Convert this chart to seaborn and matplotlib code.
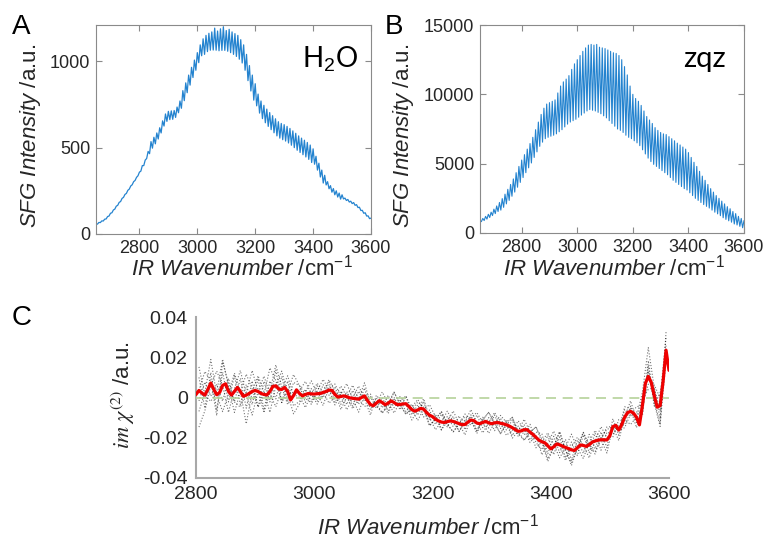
import numpy as np
import pandas as pd
import matplotlib
matplotlib.use("Agg")
import matplotlib.pyplot as plt
import seaborn as sns

# ---------------- Panel A (H2O) : SFG intensity, fringe maxima / minima ----------------
a_peak_wn = np.arange(2650, 3601, 10)
a_peak = [58, 67, 76, 86, 101, 120, 139, 161, 183, 206,
          229, 253, 278, 303, 328, 358, 396, 428, 478, 535,
          560, 585, 615, 655, 695, 710, 713, 715, 735, 770,
          830, 875, 920, 965, 1007, 1050, 1095, 1130, 1150, 1162,
          1170, 1192, 1175, 1188, 1200, 1178, 1185, 1170, 1160, 1150,
          1125, 1095, 1040, 975, 920, 870, 810, 770, 745, 723,
          703, 685, 667, 650, 640, 633, 623, 611, 597, 583,
          568, 555, 543, 530, 515, 493, 450, 410, 370, 340,
          303, 280, 263, 250, 237, 227, 208, 200, 190, 182,
          170, 155, 137, 123, 105, 92]
a_trough_wn = np.arange(2655, 3600, 10)
a_trough = [57, 66, 75, 87, 104, 123, 144, 166, 188, 212,
            235, 260, 285, 310, 337, 364, 396, 437, 465, 497,
            522, 550, 585, 625, 652, 662, 664, 675, 702, 728,
            772, 818, 862, 906, 948, 992, 1032, 1040, 1056, 1064,
            1065, 1064, 1061, 1063, 1063, 1058, 1050, 1040, 1028, 1012,
            990, 948, 888, 828, 775, 742, 700, 668, 644, 623,
            604, 586, 568, 555, 546, 538, 527, 514, 500, 485,
            472, 459, 446, 432, 414, 404, 370, 330, 295, 284,
            262, 242, 227, 214, 202, 203, 194, 185, 176, 166,
            153, 136, 120, 104, 89]

# ---------------- Panel B (zqz) ----------------
b_peak_wn = np.arange(2650, 3601, 10)
b_peak = [900, 1050, 1200, 1350, 1500, 1720, 1950, 2200, 2480, 2800,
          3150, 3500, 3900, 4350, 4800, 5260, 5650, 6050, 6450, 6900,
          7450, 8000, 8550, 9000, 9300, 9400, 9500, 9600, 10100, 10600,
          10900, 11100, 11350, 11800, 12200, 12500, 12800, 13100, 13350, 13550,
          13600, 13550, 13600, 13400, 13350, 13300, 13200, 13100, 13000, 12950,
          12800, 12500, 12000, 11400, 10600, 10000, 9700, 9500, 9200, 8800,
          8400, 8150, 7900, 7600, 7400, 7250, 7150, 7100, 6950, 6800,
          6650, 6480, 6350, 6200, 6050, 5800, 5450, 5100, 4800, 4450,
          4100, 3800, 3500, 3200, 2950, 2700, 2500, 2300, 2100, 1900,
          1750, 1550, 1400, 1200, 1050, 900]
b_trough_wn = np.arange(2655, 3600, 10)
b_trough = [820, 900, 1000, 1120, 1260, 1400, 1550, 1650, 1850, 2100,
            2350, 2650, 2950, 3300, 3650, 4000, 4350, 4700, 5050, 5450,
            5850, 6250, 6550, 6800, 6900, 6980, 7050, 7150, 7300, 7450,
            7650, 7850, 8000, 8100, 8200, 8350, 8500, 8650, 8800, 8900,
            8850, 8800, 8700, 8600, 8450, 8300, 8100, 7900, 7700, 7500,
            7400, 7250, 7050, 6900, 6800, 6650, 6500, 6300, 6000, 5700,
            5400, 5150, 4950, 4800, 4650, 4500, 4350, 4200, 4000, 3800,
            3650, 3500, 3350, 3200, 3100, 2900, 2700, 2500, 2350, 2200,
            2050, 1920, 1800, 1650, 1500, 1380, 1250, 1100, 980, 880,
            780, 650, 580, 480, 380]

# ---------------- Panel C : im chi(2) ----------------
c_wn = np.arange(2800, 3601, 5)
c_mean = [0.0015, 0.0035, 0.0022, 0.0012, 0.004, 0.0072, 0.004, 0.0014, 0.0025, 0.006,
          0.0068, 0.003, 0.0012, 0.003, 0.005, 0.003, 0.0006, 0.0012, 0.002, 0.003,
          0.0035, 0.003, 0.002, 0.0015, 0.0013, 0.003, 0.0055, 0.0058, 0.0042, 0.004,
          0.005, 0.003, -0.0012, 0.001, 0.0038, 0.002, 0.0008, 0.0015, 0.002, 0.0018,
          0.0017, 0.0019, 0.002, 0.0025, 0.003, 0.0037, 0.0035, 0.0015, 0.0002, 0.0005,
          0.0008, 0.0004, -0.0002, -0.0004, -0.0006, -0.0008, 0.0, 0.0008, -0.0015, -0.0035,
          -0.0041, -0.0028, -0.0016, -0.0025, -0.0036, -0.0028, -0.0017, -0.0025, -0.0035, -0.0035,
          -0.0032, -0.0031, -0.0045, -0.006, -0.0068, -0.0062, -0.0054, -0.0058, -0.0075, -0.0088,
          -0.0095, -0.0108, -0.0116, -0.0122, -0.0124, -0.012, -0.0116, -0.0119, -0.0124, -0.013,
          -0.0135, -0.0134, -0.0122, -0.0112, -0.0115, -0.0127, -0.013, -0.0124, -0.0119, -0.0126,
          -0.013, -0.0126, -0.0124, -0.0128, -0.0131, -0.0136, -0.0142, -0.015, -0.016, -0.0168,
          -0.0166, -0.016, -0.016, -0.0172, -0.0184, -0.0198, -0.0212, -0.022, -0.0225, -0.024,
          -0.0255, -0.0245, -0.0231, -0.0235, -0.0242, -0.0248, -0.0254, -0.026, -0.0263, -0.025,
          -0.0236, -0.0238, -0.0243, -0.0235, -0.0222, -0.0216, -0.0212, -0.021, -0.021, -0.0211,
          -0.019, -0.0145, -0.0138, -0.0162, -0.0135, -0.0098, -0.0075, -0.0069, -0.0078, -0.0098,
          -0.0136, -0.004, 0.007, 0.0105, 0.0075, 0.001, -0.0048, -0.004, 0.008, 0.0235,
          0.0135]

# individual scans: deviation from the mean (units of 1.3e-3), sampled at 2805..3595 step 10
dev_unit = 1.3e-3
scan_dev_1 = [9, 0, -7, 1, 10, 2, -8, 0, 8, 1, -6, 0, 9, 2, -5, 0, 8,
              3, 0, -4, 1, 5, 0, -4, 1, 5, 0, -5, 0, 4,
              -1, -4, 0, 4, 0, -4, 1, 4, 0, -4, 0, 4, -1, -4, 0, 4, 0, -3, 1, 4, 0, -4, 1, 4, 0, -4, 0, 4,
              1, -5, 0, 5, -1, -5, 0, 5, -1, -4, 0, 5, 0,
              -4, 0, 4, -1, -4,
              6, -3, -8, 7]
scan_dev_2 = [-8, 1, 9, 0, -10, -1, 7, 0, -11, 0, 6, 1, -8, 0, 7, -1, -7,
              -4, 1, 5, 0, -5, 1, 4, 0, -5, 0, 5, -1, -4,
              3, 0, -4, 1, 3, 0, -4, 0, 4, -1, -4, 0, 4, 0, -3, 1, 4, 0, -4, 0, 4, 0, -4, -1, 4, 0, -4, 1,
              -5, 1, 6, 0, -5, 1, 4, 0, -5, 0, 5, 1, -4,
              4, -1, -5, 0, 5,
              11, 3, -5, 2]
scan_dev_3 = [0, 9, 1, -8, 9, 3, -4, -6, 1, 8, 0, -7, 0, 8, 1, -5, 0,
              1, 5, 0, -4, 0, 4, 1, -5, 0, 5, 0, -4, 0,
              0, 4, 0, -4, 1, 3, 0, -4, 0, 4, 1, -3, 0, 4, 0, -4, 1, 4, 0, -4, 0, 3, 1, -4, 0, 4, 0, -4,
              0, 5, 1, -5, 0, 6, 0, -5, 1, 4, 0, -5, 0,
              0, 4, 1, -4, 0,
              2, -2, -7, -4]
scan_dev_4 = [-14, -6, -1, 9, 0, -8, 1, 8, 0, -9, 0, 7, -1, -8, 0, 6, 0,
              -1, -5, 0, 4, 0, -5, -1, 4, 0, -4, 0, 5, 0,
              0, -4, -1, 4, 0, -4, 0, 3, 1, -4, 0, 4, -1, -4, 0, 3, 0, -4, 1, 4, 0, -4, 0, 4, -1, -4, 0, 4,
              0, -6, 0, 5, -1, -6, 0, 5, 0, -5, 1, 4, 0,
              0, -4, -1, 4, 0,
              -3, 4, 3, 5]
scan_dev_5 = [5, -5, 4, -6, 5, -4, 6, -5, 4, -5, 5, -6, 4, -5, 5, -4, 5,
              3, -3, 2, -3, 3, -2, 3, -3, 2, -3, 3, -2, 3,
              -2, 2, -3, 2, -2, 3, -2, 2, -3, 2, -2, 3, -2, 2, -3, 2, -2, 3, -2, 2, -3, 2, -2, 3, -2, 2, -3, 2,
              3, -3, 4, -3, 3, -4, 3, -3, 4, -3, 3, -3, 3,
              -2, 3, -2, 2, -3,
              4, -4, 5, -4]
scan_dev_6 = [-4, 5, -5, 4, -6, 5, -4, 5, -5, 4, -6, 5, -4, 6, -5, 4, -4,
              -3, 2, -3, 3, -2, 3, -3, 2, -3, 3, -2, 3, -2,
              2, -2, 3, -2, 2, -3, 2, -2, 3, -2, 2, -3, 2, -2, 3, -2, 2, -3, 2, -2, 3, -2, 2, -3, 2, -2, 3, -2,
              -3, 4, -3, 3, -4, 3, -3, 4, -3, 3, -4, 3, -3,
              2, -3, 2, -2, 3,
              -5, 3, -2, -3]
scan_devs = [scan_dev_1, scan_dev_2, scan_dev_3, scan_dev_4, scan_dev_5, scan_dev_6]

x_ticks_ab = [2800, 3000, 3200, 3400, 3600]
y_ticks_a = [0, 500, 1000]
y_ticks_b = [0, 5000, 10000, 15000]
x_ticks_c = [2800, 3000, 3200, 3400, 3600]
y_ticks_c = [-0.04, -0.02, 0, 0.02, 0.04]
y_ticklabels_c = ["-0.04", "-0.02", "0", "0.02", "0.04"]

# ---------------- style ----------------
sns.set_theme(style="white")
plt.rcParams.update({
    "font.family": ["Liberation Sans", "DejaVu Sans"],
    "mathtext.fontset": "custom",
    "mathtext.rm": "Liberation Sans",
    "mathtext.it": "Liberation Sans:italic",
    "mathtext.bf": "Liberation Sans:bold",
    "axes.unicode_minus": False,
})

W, H = 764, 544
fig = plt.figure(figsize=(W / 100, H / 100), dpi=100)


def rect(l, t, r, b):
    return [l / W, 1 - b / H, (r - l) / W, (b - t) / H]


def fx(px):
    return px / W


def fy(py):
    return 1 - py / H


BLUE = "#2483cf"
TXT = "#262626"


def interleave(xp, yp, xt, yt):
    xs = np.empty(len(xp) + len(xt))
    ys = np.empty(len(xp) + len(xt))
    xs[0::2] = xp
    xs[1::2] = xt
    ys[0::2] = yp
    ys[1::2] = yt
    return pd.DataFrame({"wn": xs, "I": ys})


dfA = interleave(a_peak_wn, a_peak, a_trough_wn, a_trough)
dfB = interleave(b_peak_wn, b_peak, b_trough_wn, b_trough)

axA = fig.add_axes(rect(96, 25, 371, 234))
axB = fig.add_axes(rect(480, 25, 744, 233))

sns.lineplot(data=dfA, x="wn", y="I", ax=axA, color=BLUE, lw=0.9,
             estimator=None, sort=False)
sns.lineplot(data=dfB, x="wn", y="I", ax=axB, color=BLUE, lw=0.8,
             estimator=None, sort=False)

axA.set_ylim(0, 1210)
axB.set_ylim(0, 15000)
axA.set_yticks(y_ticks_a)
axB.set_yticks(y_ticks_b)
for ax in (axA, axB):
    ax.set_xlim(2650, 3600)
    ax.set_xticks(x_ticks_ab)
    ax.set_xlabel("")
    ax.set_ylabel("")
    for s in ax.spines.values():
        s.set_color("#8a8a8a")
        s.set_linewidth(0.8)
    ax.tick_params(direction="in", length=4, width=0.8, color="#8a8a8a",
                   top=True, right=True, bottom=True, left=True,
                   labelsize=13, labelcolor=TXT, pad=4)

# ---------------- Panel C ----------------
axC = fig.add_axes(rect(196, 317, 669, 478))
gx = c_wn[1::2]
gmean = np.asarray(c_mean)[1::2]
rows = []
for k, dev in enumerate(scan_devs):
    rows.append(pd.DataFrame({"wn": gx, "val": gmean + np.asarray(dev) * dev_unit,
                              "scan": k}))
gdf = pd.concat(rows, ignore_index=True)
sns.lineplot(data=gdf, x="wn", y="val", units="scan", estimator=None,
             color="black", lw=0.8, ls=":", alpha=0.55, ax=axC, sort=False)
axC.axhline(0, color="#b5d29a", lw=1.2, ls=(0, (6, 4)), zorder=3)
sns.lineplot(x=c_wn, y=c_mean, color="#ee0000", lw=2.3, ax=axC,
             estimator=None, sort=False, zorder=4)

axC.set_xlim(2800, 3600)
axC.set_ylim(-0.04, 0.04)
axC.set_xticks(x_ticks_c)
axC.set_yticks(y_ticks_c)
axC.set_yticklabels(y_ticklabels_c)
axC.set_xlabel("")
axC.set_ylabel("")
for side in ("top", "right"):
    axC.spines[side].set_visible(False)
for side in ("left", "bottom"):
    axC.spines[side].set_color("#a8a8a8")
    axC.spines[side].set_linewidth(1.5)
axC.tick_params(direction="in", length=5, width=1.0, color="#a8a8a8",
                labelsize=14, labelcolor=TXT, pad=6)

# ---------------- texts ----------------
xl = r"$\mathit{IR\ Wavenumber}$ /cm$^{-1}$"
yl = r"$\mathit{SFG\ Intensity}$ /a.u."
fig.text(fx(242), fy(268), xl, ha="center", va="center", fontsize=16, color=TXT)
fig.text(fx(614), fy(268), xl, ha="center", va="center", fontsize=16, color=TXT)
fig.text(fx(428), fy(527), xl, ha="center", va="center", fontsize=16, color=TXT)
fig.text(fx(31), fy(136), yl, ha="center", va="center", rotation=90, fontsize=16, color=TXT)
fig.text(fx(403), fy(136), yl, ha="center", va="center", rotation=90, fontsize=16, color=TXT)
fig.text(fx(123), fy(395), r"$im\ \chi^{(2)}$ /a.u.", ha="center", va="center",
         rotation=90, fontsize=16, color=TXT, math_fontfamily="stix")

fig.text(fx(21), fy(27), "A", ha="center", va="center", fontsize=20, color="black")
fig.text(fx(394), fy(27), "B", ha="center", va="center", fontsize=20, color="black")
fig.text(fx(22), fy(318), "C", ha="center", va="center", fontsize=20, color="black")

fig.text(fx(302), fy(67), r"H$_2$O", ha="left", va="baseline", fontsize=20,
         family=["Lato", "DejaVu Sans"], color="black")
fig.text(fx(683), fy(67), "zqz", ha="left", va="baseline", fontsize=21,
         family=["Lato", "DejaVu Sans"], color="black")

fig.savefig("out.png", dpi=100)
